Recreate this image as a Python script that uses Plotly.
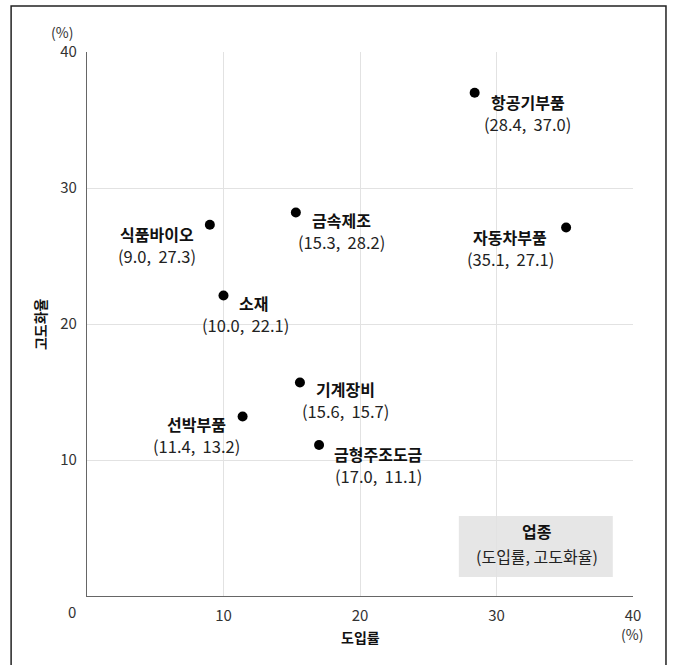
import plotly.graph_objects as go

industries = ["항공기부품", "자동차부품", "금속제조", "식품바이오", "소재", "기계장비", "선박부품", "금형주조도금"]
adoption = [28.4, 35.1, 15.3, 9.0, 10.0, 15.6, 11.4, 17.0]
advancement = [37.0, 27.1, 28.2, 27.3, 22.1, 15.7, 13.2, 11.1]
# label placement in pixels relative to the dot
name_dx = [53, -56, 46, -53, 30, 46, -46, 59]
value_dx = [53, -56, 46, -53, 22, 46, -46, 59]
label_dy = [-9, -10, -8, -9, -8, -7, -8, -9]

tick_vals = [10, 20, 30, 40]
tick_text = ["10", "20", "30", "40"]

FONT = "Noto Sans CJK KR"

fig = go.Figure()
fig.add_trace(go.Scatter(
    x=adoption, y=advancement, mode="markers",
    marker=dict(color="black", size=10),
    hoverinfo="skip", showlegend=False,
))

annotations = []
for name, x, y, ndx, vdx, dy in zip(industries, adoption, advancement, name_dx, value_dx, label_dy):
    annotations.append(dict(
        x=x, y=y, xref="x", yref="y", text=f"<b>{name}</b>", showarrow=False,
        xanchor="center", yanchor="middle",
        xshift=ndx, yshift=dy, font=dict(size=16, color="#111", family=FONT),
    ))
    annotations.append(dict(
        x=x, y=y, xref="x", yref="y", text=f"({x:.1f},  {y:.1f})", showarrow=False,
        xanchor="center", yanchor="middle",
        xshift=vdx, yshift=dy - 22, font=dict(size=16.5, color="#222", family=FONT),
    ))


def pa(x, y, text, size=15, color="#333", **kw):
    return dict(x=x, y=y, xref="paper", yref="paper", text=text, showarrow=False,
                xanchor="center", yanchor="middle",
                font=dict(size=size, color=color, family=FONT), **kw)


# units and corner zero
annotations += [
    pa(-0.046, 1.037, "(%)", 14),
    pa(0.998, -0.07, "(%)", 14),
    pa(-0.028, -0.029, "0", 15),
    pa(0.5, -0.076, "<b>도입률</b>", 14, "#111"),
    pa(-0.086, 0.5, "<b>고도화율</b>", 14, "#111", textangle=-90),
    # legend box text
    pa(0.824, 0.120, "<b>업종</b>", 16, "#111"),
    pa(0.824, 0.074, "(도입률, 고도화율)", 16, "#222"),
]

shapes = [
    dict(type="rect", xref="paper", yref="paper", x0=0.681, x1=0.963, y0=0.035, y1=0.147,
         fillcolor="#e6e6e6", line=dict(width=0), layer="below"),
    dict(type="rect", xref="paper", yref="paper", x0=-0.139, x1=1.0604, y0=-0.3, y1=1.0846,
         fillcolor="rgba(0,0,0,0)", line=dict(color="#222", width=1.5)),
]

fig.update_layout(
    width=674, height=665,
    margin=dict(l=87, r=41, t=52, b=69),
    paper_bgcolor="white", plot_bgcolor="white",
    font=dict(family=FONT, size=15, color="#333"),
    annotations=annotations, shapes=shapes,
    xaxis=dict(range=[0, 40], tickvals=tick_vals, ticktext=tick_text,
               showgrid=True, gridcolor="#e2e2e2", gridwidth=1,
               showline=True, linecolor="#666", linewidth=1.2,
               zeroline=False, ticks="", ticklabelstandoff=6,
               tickfont=dict(size=15, color="#333")),
    yaxis=dict(range=[0, 40], tickvals=tick_vals, ticktext=tick_text,
               showgrid=True, gridcolor="#e2e2e2", gridwidth=1,
               showline=True, linecolor="#666", linewidth=1.2,
               zeroline=False, ticks="", ticklabelstandoff=6,
               tickfont=dict(size=15, color="#333")),
)

fig.write_html("out.html")
